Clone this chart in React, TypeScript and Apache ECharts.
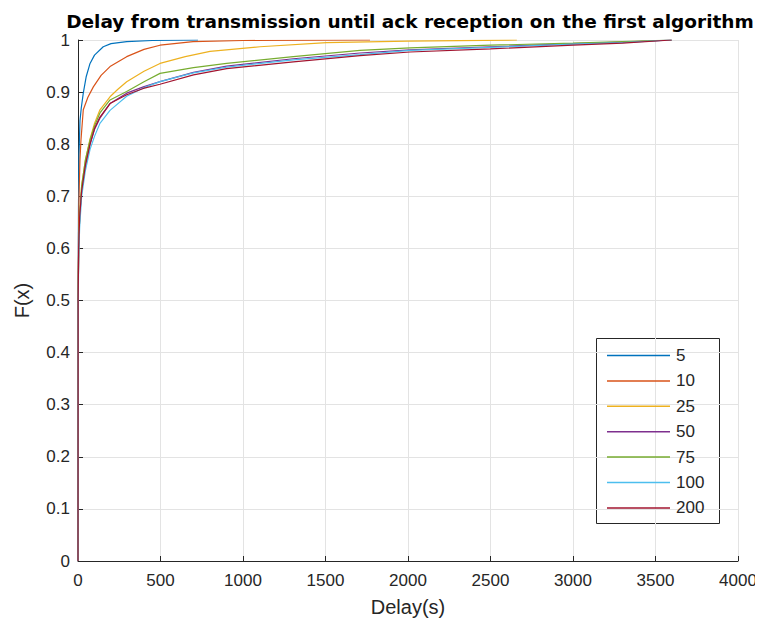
import React, { useEffect, useRef } from "react";
import * as echarts from "echarts";

// Empirical CDF samples: delay in seconds and cumulative probability F(x)
const delays5 = [0, 1, 3, 6, 12, 20, 32, 50, 73, 100, 153, 200, 295, 450, 727];
const cdf5 = [0, 0.5, 0.68, 0.78, 0.845, 0.87, 0.898, 0.93, 0.955, 0.971, 0.987, 0.993, 0.997, 0.999, 1];

const delays10 = [0, 1, 3, 6, 12, 18, 32, 60, 93, 140, 194, 295, 400, 497, 697, 1000, 1770];
const cdf10 = [0, 0.5, 0.62, 0.7, 0.77, 0.808, 0.866, 0.89, 0.91, 0.932, 0.949, 0.968, 0.982, 0.99, 0.997, 0.999, 1];

const delays25 = [0, 1, 4, 10, 22, 45, 73, 100, 133, 194, 240, 295, 400, 497, 650, 800, 1103, 1507, 2000, 2660];
const cdf25 = [0, 0.5, 0.6, 0.66, 0.72, 0.77, 0.81, 0.84, 0.866, 0.891, 0.905, 0.92, 0.94, 0.955, 0.968, 0.978, 0.987, 0.995, 0.998, 1];

const delays50 = [0, 1, 4, 10, 22, 45, 73, 100, 133, 194, 295, 396, 497, 700, 901, 1305, 1709, 2012, 2500, 3000, 3300, 3598];
const cdf50 = [0, 0.5, 0.6, 0.66, 0.71, 0.76, 0.8, 0.828, 0.85, 0.878, 0.898, 0.91, 0.92, 0.938, 0.95, 0.964, 0.975, 0.981, 0.987, 0.993, 0.996, 1];

const delays75 = [0, 1, 4, 10, 22, 45, 73, 100, 133, 194, 295, 400, 497, 700, 901, 1305, 1709, 2012, 2500, 3000, 3300, 3598];
const cdf75 = [0, 0.5, 0.6, 0.66, 0.72, 0.77, 0.808, 0.835, 0.86, 0.885, 0.901, 0.92, 0.936, 0.947, 0.955, 0.968, 0.98, 0.985, 0.99, 0.994, 0.997, 1];

const delays100 = [0, 1, 4, 10, 22, 45, 73, 100, 133, 194, 295, 396, 497, 700, 901, 1305, 1709, 2012, 2500, 3000, 3300, 3598];
const cdf100 = [0, 0.48, 0.58, 0.64, 0.7, 0.75, 0.79, 0.815, 0.84, 0.865, 0.892, 0.908, 0.92, 0.937, 0.948, 0.962, 0.972, 0.98, 0.986, 0.992, 0.995, 1];

const delays200 = [0, 1, 4, 10, 22, 45, 73, 100, 133, 194, 295, 396, 497, 700, 901, 1305, 1709, 2012, 2500, 3000, 3300, 3598];
const cdf200 = [0, 0.5, 0.6, 0.66, 0.71, 0.76, 0.8, 0.83, 0.852, 0.878, 0.895, 0.907, 0.915, 0.933, 0.945, 0.958, 0.97, 0.977, 0.983, 0.99, 0.994, 1];

const seriesNames = ["5", "10", "25", "50", "75", "100", "200"];
const seriesDelays = [delays5, delays10, delays25, delays50, delays75, delays100, delays200];
const seriesCdf = [cdf5, cdf10, cdf25, cdf50, cdf75, cdf100, cdf200];
const seriesColors = ["#0072BD", "#D95319", "#EDB120", "#7E2F8E", "#77AC30", "#4DBEEE", "#A2142F"];

const FONT = "'Liberation Sans', Arial, Helvetica, sans-serif";
const INK = "#262626";

export default function App() {
  const ref = useRef<HTMLDivElement>(null);

  useEffect(() => {
    if (!ref.current) return;
    const chart = echarts.init(ref.current, undefined, { renderer: "svg" });

    const series = seriesNames.map((name, i) => ({
      name,
      type: "line",
      data: seriesDelays[i].map((d, k) => [d, seriesCdf[i][k]]),
      showSymbol: false,
      symbol: "none",
      lineStyle: { color: seriesColors[i], width: 1.2 },
      itemStyle: { color: seriesColors[i] },
      z: 2 + i,
    }));

    chart.setOption({
      animation: false,
      backgroundColor: "#ffffff",
      title: {
        text: "Delay from transmission until ack reception on the first algorithm",
        left: 405,
        top: 7,
        textAlign: "center",
        textStyle: {
          fontFamily: "'DejaVu Sans', sans-serif",
          fontWeight: "bold",
          fontSize: 18.5,
          color: "#000000",
        },
      },
      grid: { left: 78, right: 25, top: 40, bottom: 67 },
      xAxis: {
        type: "value",
        min: 0,
        max: 4000,
        interval: 500,
        name: "Delay(s)",
        nameLocation: "middle",
        nameGap: 36,
        nameMoveOverlap: false,
        nameTextStyle: { fontFamily: FONT, fontSize: 20, color: INK },
        axisLine: { show: true, lineStyle: { color: INK, width: 1 } },
        axisTick: { show: true, inside: true, length: 5, lineStyle: { color: INK } },
        axisLabel: {
          fontFamily: FONT,
          fontSize: 17,
          color: INK,
          margin: 11,
          formatter: (v: number) => String(v),
        },
        splitLine: { show: true, lineStyle: { color: "#e3e3e3", width: 1 } },
      },
      yAxis: {
        type: "value",
        min: 0,
        max: 1,
        interval: 0.1,
        name: "F(x)",
        nameLocation: "middle",
        nameGap: 46,
        nameMoveOverlap: false,
        nameTextStyle: { fontFamily: FONT, fontSize: 20, color: INK },
        axisLine: { show: true, lineStyle: { color: INK, width: 1 } },
        axisTick: { show: true, inside: true, length: 5, lineStyle: { color: INK } },
        axisLabel: {
          fontFamily: FONT,
          fontSize: 17,
          color: INK,
          margin: 8,
          formatter: (v: number) => String(Math.round(v * 10) / 10),
        },
        splitLine: { show: true, lineStyle: { color: "#e3e3e3", width: 1 } },
      },
      legend: {
        orient: "vertical",
        left: 607,
        top: 347,
        padding: 0,
        icon: "rect",
        itemWidth: 63,
        itemHeight: 1.5,
        itemGap: 8.4,
        textStyle: { fontFamily: FONT, fontSize: 17, color: INK, padding: [0, 0, 0, 1] },
        data: seriesNames,
      },
      graphic: [
        {
          type: "rect",
          left: 596,
          top: 338,
          z: -1,
          zlevel: 0,
          shape: { width: 123, height: 185 },
          style: { fill: "#ffffff", stroke: INK, lineWidth: 1 },
        },
      ],
      series,
    });

    return () => chart.dispose();
  }, []);

  return <div ref={ref} style={{ width: 763, height: 628, margin: -8 }} />;
}
